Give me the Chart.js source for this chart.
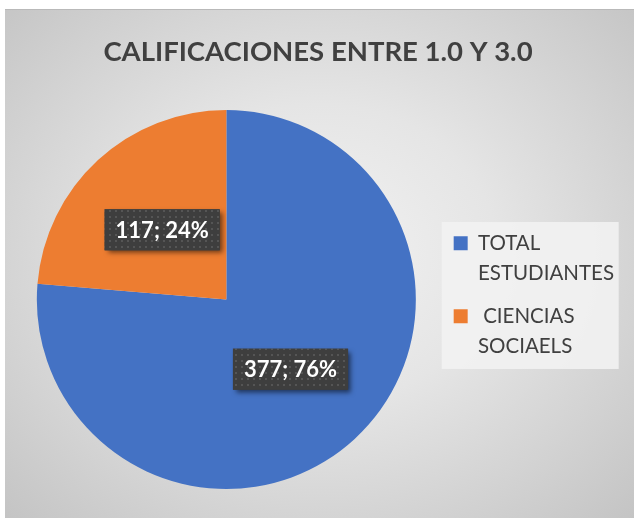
<!DOCTYPE html>
<html>
<head>
<meta charset="utf-8">
<script src="https://cdn.jsdelivr.net/npm/chart.js@4/dist/chart.umd.min.js"></script>
<style>
    html, body { margin: 0; padding: 0; background: #ffffff; }
    #frame {
        position: absolute;
        left: 5px;
        top: 9px;
        width: 629px;
        height: 509px;
        box-sizing: border-box;
        border-top: 1px solid #b9b9b9;
        background: radial-gradient(ellipse farthest-corner at 50% 48%, #f2f2f2 0%, #e5e5e5 40%, #c4c4c4 100%);
    }
</style>
</head>
<body>
<div id="frame"><canvas id="pieChart"></canvas></div>
<script>
/* -------- Data -------- */
const categories = [['TOTAL', 'ESTUDIANTES'], [' CIENCIAS', 'SOCIAELS']];
const values = [377, 117];
const sliceColors = ['#4472C4', '#ED7D31'];

const TEXT_COLOR = '#404040';
const FONT = 'Lato, "Open Sans", sans-serif';

/* -------- Dotted pattern for the value labels -------- */
function makeDotPattern(ctx) {
    const tile = document.createElement('canvas');
    tile.width = 6;
    tile.height = 6;
    const t = tile.getContext('2d');
    t.fillStyle = '#3e3e3e';
    t.fillRect(0, 0, 6, 6);
    t.fillStyle = '#555555';
    t.fillRect(2, 2, 2, 2);
    return ctx.createPattern(tile, 'repeat');
}

/* -------- Legend background panel -------- */
const legendPanel = {
    id: 'legendPanel',
    beforeDraw(chart) {
        const lg = chart.legend;
        if (!lg || !lg.legendHitBoxes || !lg.legendHitBoxes.length) return;
        const boxes = lg.legendHitBoxes;
        const first = boxes[0];
        const last = boxes[boxes.length - 1];
        const ctx = chart.ctx;
        ctx.save();
        ctx.fillStyle = 'rgba(242, 242, 242, 0.9)';
        ctx.fillRect(lg.left + 1, first.top - 11, 177, last.top + last.height - first.top + 14);
        ctx.restore();
    }
};

/* -------- Value labels ("377; 76%") -------- */
const valueLabels = {
    id: 'valueLabels',
    afterDatasetsDraw(chart) {
        const ctx = chart.ctx;
        const meta = chart.getDatasetMeta(0);
        const data = chart.data.datasets[0].data;
        const total = data.reduce((a, b) => a + b, 0);
        const pattern = makeDotPattern(ctx);

        ctx.save();
        ctx.font = 'bold 22px ' + FONT;
        ctx.textAlign = 'center';
        ctx.textBaseline = 'middle';

        meta.data.forEach((arc, i) => {
            const pos = arc.tooltipPosition();
            const text = data[i] + '; ' + Math.round(data[i] / total * 100) + '%';
            const w = ctx.measureText(text).width + 22;
            const h = 41;
            const x = pos.x - w / 2;
            const y = pos.y - h / 2;

            ctx.save();
            ctx.shadowColor = 'rgba(0, 0, 0, 0.55)';
            ctx.shadowBlur = 5;
            ctx.shadowOffsetX = 3;
            ctx.shadowOffsetY = 3;
            ctx.fillStyle = '#3e3e3e';
            ctx.fillRect(x, y, w, h);
            ctx.restore();

            ctx.fillStyle = pattern;
            ctx.fillRect(x, y, w, h);

            ctx.fillStyle = '#ffffff';
            ctx.fillText(text, pos.x, pos.y + 1);
        });
        ctx.restore();
    }
};

/* -------- Chart -------- */
const ctx = document.getElementById('pieChart').getContext('2d');

new Chart(ctx, {
    type: 'pie',
    data: {
        labels: categories,
        datasets: [{
            data: values,
            backgroundColor: sliceColors,
            borderWidth: 0
        }]
    },
    options: {
        responsive: true,
        maintainAspectRatio: false,
        animation: false,
        layout: {
            padding: { top: 0, bottom: 29, left: 7, right: 10 }
        },
        plugins: {
            title: {
                display: true,
                text: 'CALIFICACIONES ENTRE 1.0 Y 3.0',
                color: TEXT_COLOR,
                font: { family: FONT, size: 27.5, weight: 'bold', lineHeight: 1.2 },
                padding: { top: 26, bottom: 41 }
            },
            legend: {
                position: 'right',
                align: 'center',
                fullSize: false,
                labels: {
                    color: TEXT_COLOR,
                    font: { family: FONT, size: 20.5, lineHeight: 1.463 },
                    boxWidth: 14,
                    boxHeight: 14,
                    padding: 13
                }
            },
            tooltip: { enabled: false }
        }
    },
    plugins: [legendPanel, valueLabels]
});
</script>
</body>
</html>
